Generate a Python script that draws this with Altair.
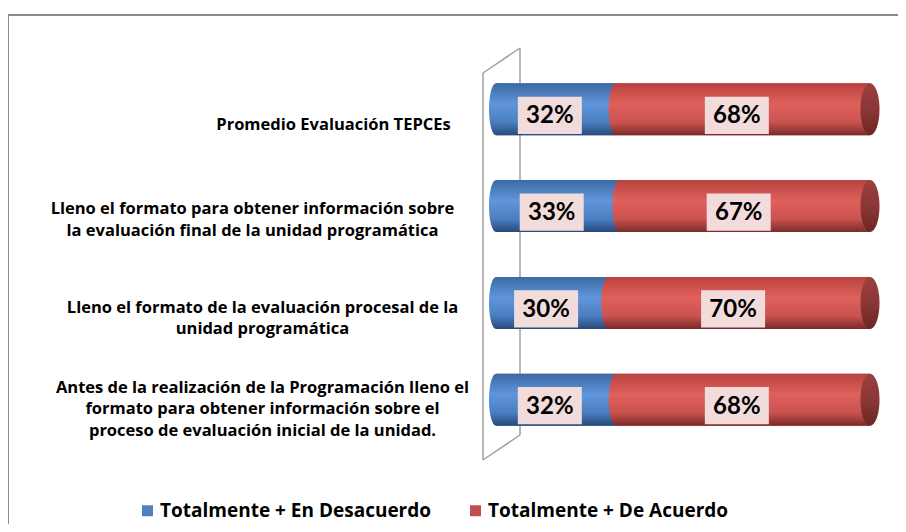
import altair as alt
import pandas as pd

categories = [
    "Promedio Evaluación   TEPCEs",
    "Lleno el formato para obtener información sobre\nla evaluación final de la unidad programática",
    "Lleno el formato de la evaluación procesal de la\nunidad programática",
    "Antes de la realización de la Programación lleno el\nformato para obtener información sobre el\nproceso de evaluación inicial de la unidad.",
]
series_names = ["Totalmente + En Desacuerdo", "Totalmente + De Acuerdo"]
desacuerdo = [32, 33, 30, 32]
acuerdo = [68, 67, 70, 68]
colors = ["#4F81BD", "#C0504D"]

rows = []
for c, d, a in zip(categories, desacuerdo, acuerdo):
    rows.append({"category": c, "series": series_names[0], "value": d, "start": 0, "end": d})
    rows.append({"category": c, "series": series_names[1], "value": a, "start": d, "end": d + a})
df = pd.DataFrame(rows)

FONT = "Lato"
LABEL_FONT = "Open Sans"

def grad(stops):
    return {"gradient": "linear", "x1": 0, "y1": 0, "x2": 0, "y2": 1,
            "stops": [{"offset": o, "color": c} for o, c in stops]}

blue_grad = grad([(0, "#3C69A3"), (0.4, "#5F96DB"), (0.75, "#4A7EC0"), (1, "#28497A")])
red_grad = grad([(0, "#B9433F"), (0.4, "#E0605C"), (0.75, "#C9524F"), (1, "#7A2B29")])
cap_grad = grad([(0, "#9A423F"), (0.5, "#8A3735"), (1, "#6B2624")])

def ellipse_path(a):
    k = 0.5523
    return (f"M0,-1 C{k*a:.4f},-1 {a:.4f},{-k:.4f} {a:.4f},0 "
            f"C{a:.4f},{k:.4f} {k*a:.4f},1 0,1 "
            f"C{-k*a:.4f},1 {-a:.4f},{k:.4f} {-a:.4f},0 "
            f"C{-a:.4f},{-k:.4f} {-k*a:.4f},-1 0,-1 Z")

HALF_H = 26
SYM_SIZE = (2 * HALF_H) ** 2
side_shape = ellipse_path(7 / HALF_H)
cap_shape = ellipse_path(9.5 / HALF_H)
box_shape = "M-1,-0.58 L1,-0.58 L1,0.58 L-1,0.58 Z"

xs = alt.Scale(domain=[0, 100], nice=False, zero=False)
ys = alt.Scale(domain=categories, paddingInner=0.4625, paddingOuter=0.231)

y_axis = alt.Axis(
    domain=False, ticks=False, grid=False,
    labelExpr="split(datum.value, '\\n')",
    labelAlign="center", labelBaseline="middle",
    labelFont=LABEL_FONT, labelFontSize=16.5, labelFontWeight="bold",
    labelColor="#000000", labelLimit=600, labelLineHeight=21.5,
    labelOffset={"condition": [
        {"test": "indexof(datum.value, 'Promedio') >= 0", "value": 16},
        {"test": "indexof(datum.value, 'final') >= 0", "value": 3},
        {"test": "indexof(datum.value, 'Antes') >= 0", "value": -12},
    ], "value": 5},
    labelPadding={"condition": [
        {"test": "indexof(datum.value, 'Promedio') >= 0", "value": 163},
        {"test": "indexof(datum.value, 'final') >= 0", "value": 244},
    ], "value": 234},
)

base = alt.Chart(df)
Y = alt.Y("category:N", scale=ys, sort=categories, title=None, axis=y_axis)

is_blue = alt.datum.series == series_names[0]
is_red = alt.datum.series == series_names[1]

# chart frame and the 3D wall
frame = alt.Chart(pd.DataFrame({"a": [0]})).mark_rect(
    fill=None, stroke="#8C8C8C", strokeWidth=2
).encode(x=alt.value(-488), x2=alt.value(420), y=alt.value(-46), y2=alt.value(480))

wall_color = "#A0A0A0"
def rule(x1, y1, x2, y2):
    return alt.Chart(pd.DataFrame({"a": [0]})).mark_rule(color=wall_color, strokeWidth=1.5).encode(
        x=alt.value(x1), y=alt.value(y1), x2=alt.value(x2), y2=alt.value(y2))

wall = [rule(-13, 12, -13, 399), rule(24, -13, 24, 374), rule(-13, 12, 24, -13), rule(-13, 399, 24, 374)]

flat = base.mark_bar().encode(
    x=alt.X("start:Q", scale=xs, axis=None),
    x2="end:Q",
    y=Y,
    color=alt.Color("series:N", scale=alt.Scale(domain=series_names, range=colors),
                    legend=alt.Legend(title=None, orient="none", direction="horizontal",
                                      legendX=-358, legendY=440, symbolType="square",
                                      symbolSize=121, symbolStrokeWidth=0, labelOffset=3,
                                      columnPadding=34, labelFont=LABEL_FONT, labelFontSize=19,
                                      labelFontWeight="bold", labelColor="#000000",
                                      labelLimit=400)),
)

X0 = alt.X("start:Q", scale=xs, axis=None)
blue_body = base.transform_filter(is_blue).mark_bar(fill=blue_grad).encode(
    x=X0, x2="end:Q", y=Y)
blue_side = base.transform_filter(is_blue).mark_point(
    shape=side_shape, size=SYM_SIZE, filled=True, fill=blue_grad, opacity=1, strokeWidth=0
).encode(x=X0, y=Y)
red_body = base.transform_filter(is_red).mark_bar(fill=red_grad).encode(
    x=X0, x2="end:Q", y=Y)
red_side = base.transform_filter(is_red).mark_point(
    shape=side_shape, size=SYM_SIZE, filled=True, fill=red_grad, opacity=1, strokeWidth=0
).encode(x=X0, y=Y)
red_cap = base.transform_filter(is_red).mark_point(
    shape=cap_shape, size=SYM_SIZE, filled=True, fill=cap_grad, opacity=1, strokeWidth=0
).encode(x=alt.X("end:Q", scale=xs, axis=None), y=Y)

lab_base = base.transform_calculate(mid="(datum.start + datum.end) / 2",
                                    label="datum.value + '%'")
XM = alt.X("mid:Q", scale=xs, axis=None)
boxes = lab_base.mark_point(
    shape=box_shape, size=4096, filled=True, fill="#F2DCDB", opacity=1, strokeWidth=0,
    xOffset=-6, yOffset=6
).encode(x=XM, y=Y)
texts = lab_base.mark_text(
    font=FONT, fontSize=24, fontWeight="bold", color="#000000", baseline="middle",
    dx=-6, dy=7
).encode(x=XM, y=Y, text="label:N")

chart = alt.layer(
    frame, *wall, flat, blue_body, blue_side, red_body, red_side, red_cap, boxes, texts
).properties(
    width=374, height=387,
    padding={"left": 488, "top": 53, "right": 28, "bottom": 76},
    autosize=alt.AutoSizeParams(type="none"),
    background="#FFFFFF",
).configure_view(stroke=None)

chart.save("out.html", embed_options={"renderer": "svg", "actions": False})
